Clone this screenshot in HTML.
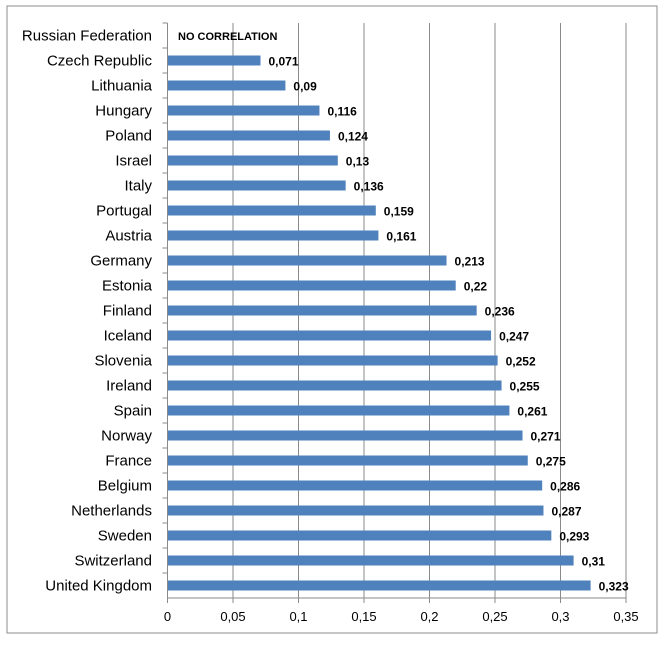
<!DOCTYPE html>
<html><head><meta charset="utf-8"><style>
body{margin:0;background:#fff;font-family:"Liberation Sans",sans-serif}
</style></head><body>
<svg width="664" height="640" xmlns="http://www.w3.org/2000/svg">
<rect x="7" y="6" width="650" height="627" fill="#fff" stroke="#8c8c8c"/>
<g id="grid"></g><g id="bars"></g><g id="axes"></g>
<text x="178" y="40" font-size="11" font-weight="bold" fill="#000">NO CORRELATION</text>
</svg>
<script>
const categories=["Russian Federation","Czech Republic","Lithuania","Hungary","Poland","Israel","Italy","Portugal","Austria","Germany","Estonia","Finland","Iceland","Slovenia","Ireland","Spain","Norway","France","Belgium","Netherlands","Sweden","Switzerland","United Kingdom"];
const values=[null,0.071,0.09,0.116,0.124,0.13,0.136,0.159,0.161,0.213,0.22,0.236,0.247,0.252,0.255,0.261,0.271,0.275,0.286,0.287,0.293,0.31,0.323];
const valueLabels=["","0,071","0,09","0,116","0,124","0,13","0,136","0,159","0,161","0,213","0,22","0,236","0,247","0,252","0,255","0,261","0,271","0,275","0,286","0,287","0,293","0,31","0,323"];
const ticks=[0,0.05,0.1,0.15,0.2,0.25,0.3,0.35];
const tickLabels=["0","0,05","0,1","0,15","0,2","0,25","0,3","0,35"];
const NS="http://www.w3.org/2000/svg";
const x0=167.5,x1=626,yTop=23,band=25,yBot=yTop+band*categories.length;
const xs=v=>x0+(v/0.35)*(x1-x0);
const yc=i=>yTop+band*i+band/2;
function mk(t,a,p){const e=document.createElementNS(NS,t);for(const k in a)e.setAttribute(k,a[k]);p.appendChild(e);return e;}
const grid=document.getElementById('grid'),bars=document.getElementById('bars'),axes=document.getElementById('axes');
ticks.forEach((t,i)=>{
 if(i>0){const l=mk('line',{x1:xs(t),x2:xs(t),y1:yTop,y2:yBot,stroke:'#8a8a8a','stroke-width':1},grid);
 
 }
 const tk=mk('line',{x1:xs(t),x2:xs(t),y1:yBot,y2:yBot+5,stroke:'#8a8a8a'},axes);
 
 
 const tx=mk('text',{x:xs(t),y:yBot+23,'font-size':13,'text-anchor':'middle',fill:'#000'},axes);
 tx.textContent=tickLabels[i];
 
 
});
categories.forEach((c,i)=>{
 const tx=mk('text',{x:152,y:yc(i)+5,'font-size':15,'text-anchor':'end',fill:'#000'},axes);
 tx.textContent=c;
 
 
 const tk=mk('line',{x1:x0-5,x2:x0,y1:yTop+band*i,y2:yTop+band*i,stroke:'#8a8a8a'},axes);
 
 
 if(values[i]!=null){
  const r=mk('rect',{x:x0,y:yc(i)-5,width:xs(values[i])-x0,height:10,fill:'#4f81bd'},bars);
  
  
  const v=mk('text',{x:xs(values[i])+8,y:yc(i)+5,'font-size':12,'font-weight':'bold',fill:'#000'},bars);
  v.textContent=valueLabels[i];
  
  
 }
});
const ya=mk('line',{x1:x0,x2:x0,y1:yTop,y2:yBot,stroke:'#8a8a8a'},axes);


const xa=mk('line',{x1:x0,x2:x1,y1:yBot,y2:yBot,stroke:'#8a8a8a'},axes);


</script>
</body></html>
